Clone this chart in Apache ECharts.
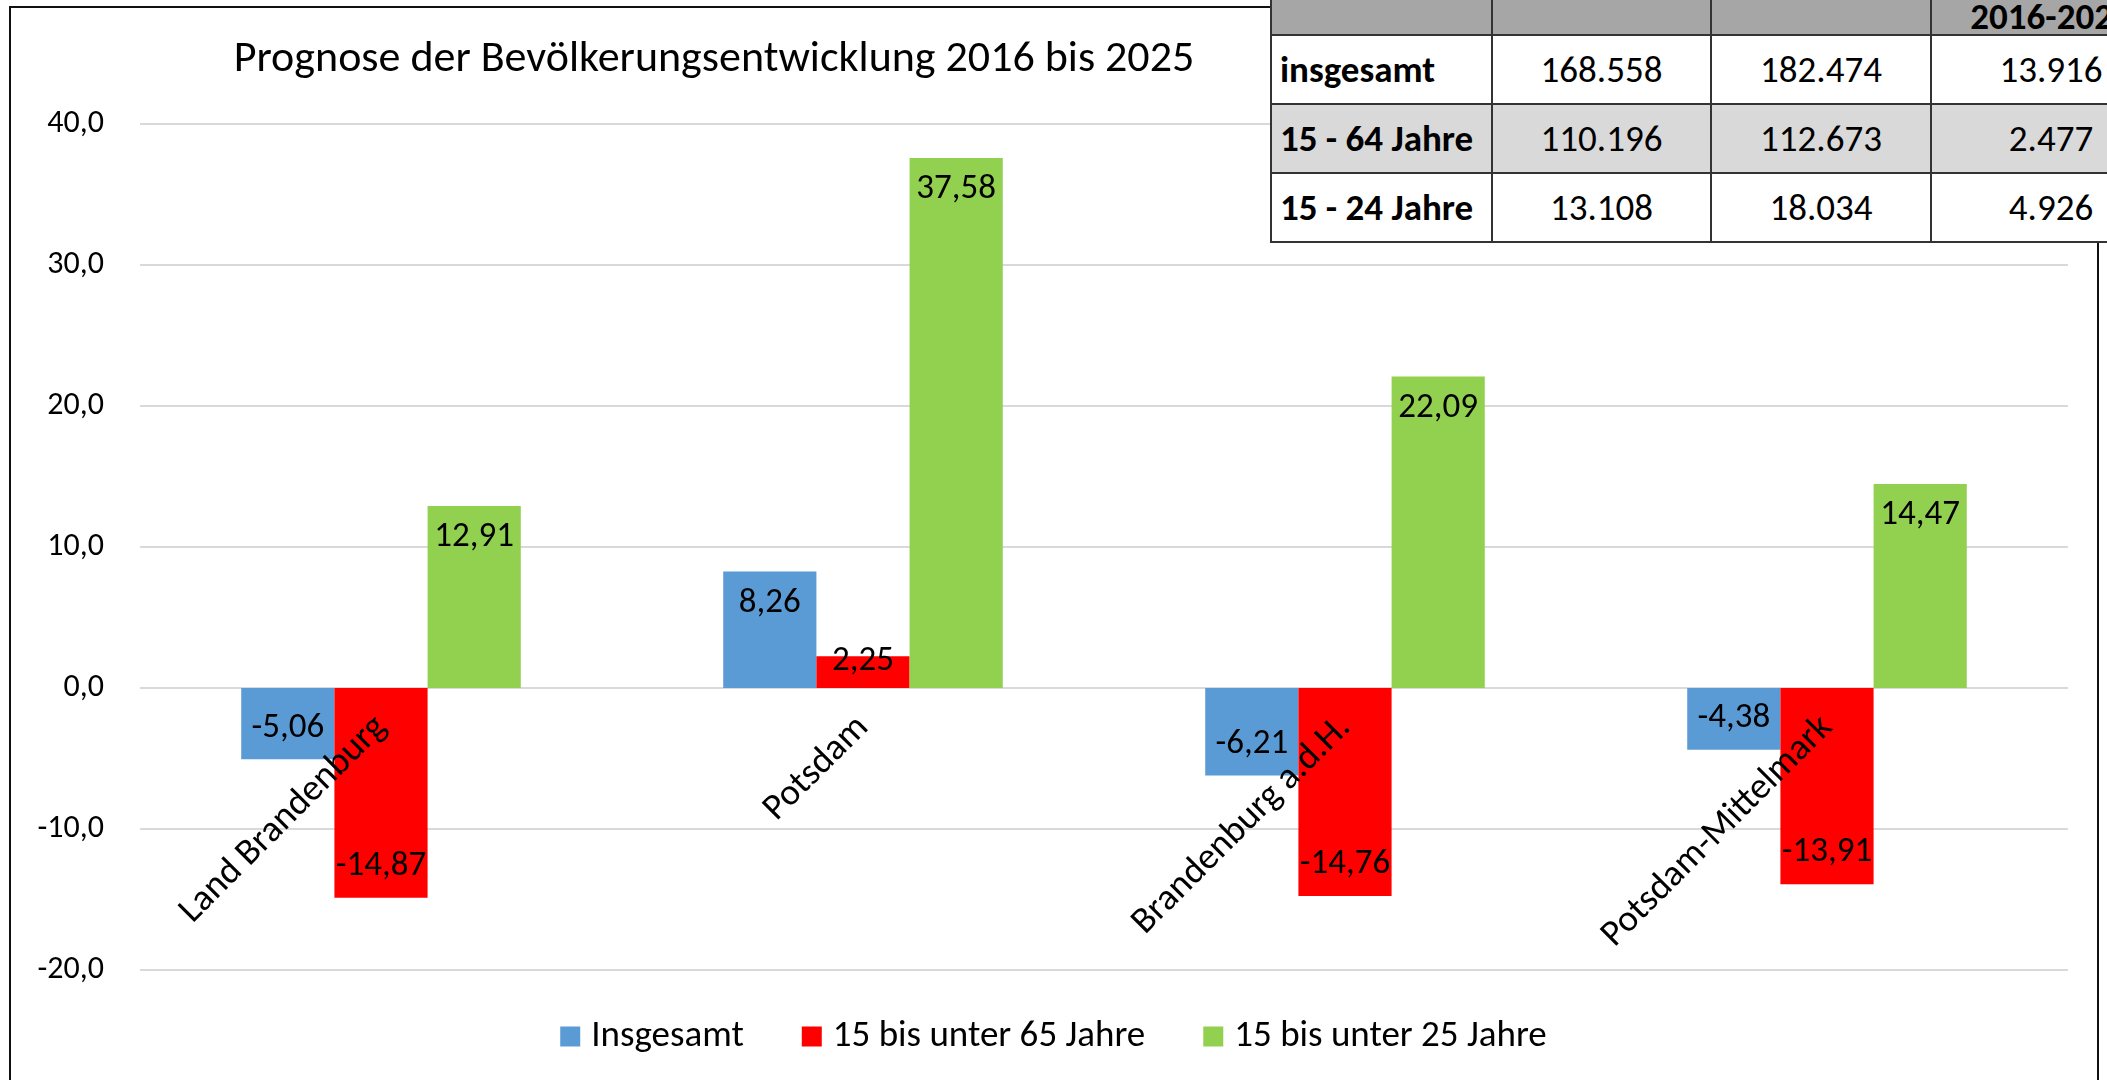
<!DOCTYPE html>
<html>
<head>
<meta charset="utf-8">
<script src="https://cdn.jsdelivr.net/npm/echarts@6/dist/echarts.min.js"></script>
<style>
  html, body { margin: 0; padding: 0; background: #fff; overflow: hidden; }
  #chart { position: absolute; left: 0; top: 0; width: 2107px; height: 1080px; }
  #frame { position: absolute; left: 9px; top: 6px; width: 2086px; height: 1100px;
           border: 2px solid #111; pointer-events: none; }
  #tbl { position: absolute; left: 1270px; top: -2px; width: 900px; border-collapse: collapse;
         font-family: Carlito, Calibri, Lato, sans-serif; font-size: 37px; color: #000;
         table-layout: fixed; background: #fff; }
  #tbl td { border: 2px solid #333; text-align: center; padding: 0; overflow: hidden; white-space: nowrap; }
  #tbl td.lbl { text-align: left; font-weight: bold; padding-left: 8px; }
  #tbl tr.head td { background: #a6a6a6; height: 34px; line-height: 34px; font-weight: bold; vertical-align: bottom; }
  #tbl tr.row td { height: 67px; }
  #tbl tr.alt td { background: #d9d9d9; }
</style>
</head>
<body>
<div id="chart"></div>
<div id="frame"></div>
<table id="tbl"></table>
<script>
const FONT = "Carlito, Calibri, Lato, sans-serif"

const titleText = "Prognose der Bevölkerungsentwicklung 2016 bis 2025"
const categories = ["Land Brandenburg", "Potsdam", "Brandenburg a.d.H.", "Potsdam-Mittelmark"]
const seriesNames = ["Insgesamt", "15 bis unter 65 Jahre", "15 bis unter 25 Jahre"]
const insgesamt = [-5.06, 8.26, -6.21, -4.38]
const jahre15bis65 = [-14.87, 2.25, -14.76, -13.91]
const jahre15bis25 = [12.91, 37.58, 22.09, 14.47]
const colors = ["#5b9bd5", "#ff0000", "#92d050"]
const yMin = -20
const yMax = 40
const yStep = 10

// Tabelle oben rechts
const tableHeader = ["", "", "", "2016-2025"]
const tableRows = ["insgesamt", "15 - 64 Jahre", "15 - 24 Jahre"]
const table2016 = ["168.558", "110.196", "13.108"]
const table2025 = ["182.474", "112.673", "18.034"]
const tableDiff = ["13.916", "2.477", "4.926"]

const buildTable = () => {
  let html = '<colgroup><col style="width:221px"><col style="width:219px"><col style="width:220px"><col style="width:240px"></colgroup>'
  html += '<tr class="head">'
  tableHeader.forEach((h, i) => {
    html += '<td' + (i === 0 ? ' class="lbl"' : '') + '>' + h + '</td>'
  })
  html += '</tr>'
  tableRows.forEach((r, i) => {
    html += '<tr class="row' + (i === 1 ? ' alt' : '') + '">'
    html += '<td class="lbl">' + r + '</td>'
    html += '<td>' + table2016[i] + '</td><td>' + table2025[i] + '</td><td>' + tableDiff[i] + '</td>'
    html += '</tr>'
  })
  document.getElementById("tbl").innerHTML = html
}

const fmt = (v, d) => v.toFixed(d).replace(".", ",")

// Label innen am Balkenende, bei kurzen Balken auf der Kante
const toItems = (values) =>
  values.map((v) => {
    let label
    if (Math.abs(v) < 4) label = { position: "top", distance: -22 }
    else label = { position: v < 0 ? "insideBottom" : "insideTop", distance: 14 }
    return { value: v, label: label }
  })

const gridTop = 124
const gridBottom = 110

const initChart = () => {
  const chart = echarts.init(document.getElementById("chart"))
  const allValues = [insgesamt, jahre15bis65, jahre15bis25]
  // x-Achse auf die Nulllinie schieben
  const plotHeight = 1080 - gridTop - gridBottom
  const zeroOffset = -plotHeight * (0 - yMin) / (yMax - yMin)
  const option = {
    animation: false,
    color: colors,
    textStyle: { fontFamily: FONT },
    graphic: [
      {
        type: "text",
        x: 714,
        y: 38,
        style: {
          text: titleText,
          font: "44px " + FONT,
          fill: "#000",
          textAlign: "center"
        }
      }
    ],
    legend: {
      data: seriesNames,
      bottom: 20,
      left: "center",
      icon: "rect",
      itemWidth: 20,
      itemHeight: 20,
      itemGap: 58,
      selectedMode: false,
      textStyle: { fontSize: 37, color: "#000", fontFamily: FONT, padding: [0, 0, 0, 6] }
    },
    grid: {
      left: 140,
      right: 39,
      top: gridTop,
      bottom: gridBottom,
      containLabel: false,
      outerBoundsMode: "none"
    },
    xAxis: {
      type: "category",
      data: categories,
      offset: zeroOffset,
      z: 10,
      axisLine: { show: false, onZero: false },
      axisTick: { show: false },
      axisLabel: {
        rotate: 45,
        interval: 0,
        margin: 34,
        fontSize: 37,
        color: "#000",
        fontFamily: FONT
      }
    },
    yAxis: {
      type: "value",
      min: yMin,
      max: yMax,
      interval: yStep,
      axisLine: { show: false },
      axisTick: { show: false },
      axisLabel: {
        margin: 36,
        fontSize: 32,
        color: "#000",
        fontFamily: FONT,
        formatter: (v) => fmt(v, 1)
      },
      splitLine: { lineStyle: { color: "#d9d9d9", width: 2 } }
    },
    series: seriesNames.map((name, i) => ({
      name: name,
      type: "bar",
      data: toItems(allValues[i]),
      barGap: "0%",
      barCategoryGap: "42%",
      label: {
        show: true,
        fontSize: 35,
        color: "#000",
        fontFamily: FONT,
        formatter: (p) => fmt(p.value, 2)
      }
    }))
  }
  chart.setOption(option)
}

buildTable()
initChart()
</script>
</body>
</html>
